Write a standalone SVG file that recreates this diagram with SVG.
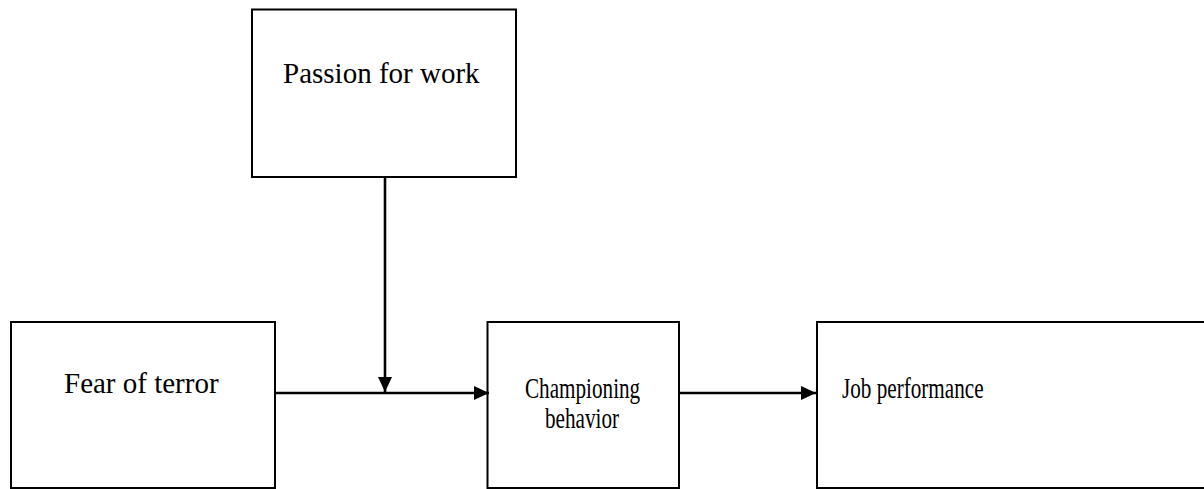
<svg xmlns="http://www.w3.org/2000/svg" width="1204" height="489" viewBox="0 0 1204 489">
<style>
.box{fill:#fff;stroke:#000;stroke-width:2}
text{font-family:'Liberation Serif','Times New Roman','DejaVu Serif',serif;font-size:29px;fill:#000}
.ln{stroke:#000;stroke-width:2.6;fill:none}
</style>
<defs>
<marker id="ah" markerUnits="userSpaceOnUse" markerWidth="16" markerHeight="14" refX="15" refY="7" orient="auto">
<path d="M0,0 L15,7 L0,14 Z" fill="#000"/>
</marker>
</defs>
<rect width="1204" height="489" fill="#fff"/>
<g id="passion">
<rect class="box" x="252" y="9.5" width="264" height="167.5"/>
<text x="283" y="83" font-family="Liberation Serif, serif">Passion for work</text>
</g>
<g id="fear">
<rect class="box" x="11" y="322" width="264" height="166"/>
<text x="64" y="393" font-family="Liberation Serif, serif">Fear of terror</text>
</g>
<g id="championing">
<rect class="box" x="487.5" y="322" width="191.5" height="166"/>
<text transform="translate(525 398) scale(0.73 1)" x="0" y="0" font-family="Liberation Serif, serif">Championing</text>
<text transform="translate(545 428) scale(0.73 1)" x="0" y="0" font-family="Liberation Serif, serif">behavior</text>
</g>
<g id="job">
<rect class="box" x="817" y="322" width="400" height="166"/>
<text transform="translate(842 398) scale(0.73 1)" x="0" y="0" font-family="Liberation Serif, serif">Job performance</text>
</g>
<g id="connectors">
<line class="ln" x1="275" y1="393" x2="489" y2="393" marker-end="url(#ah)"/>
<line class="ln" x1="385" y1="177" x2="385" y2="392" marker-end="url(#ah)"/>
<line class="ln" x1="679" y1="393" x2="816" y2="393" marker-end="url(#ah)"/>
</g>
</svg>
